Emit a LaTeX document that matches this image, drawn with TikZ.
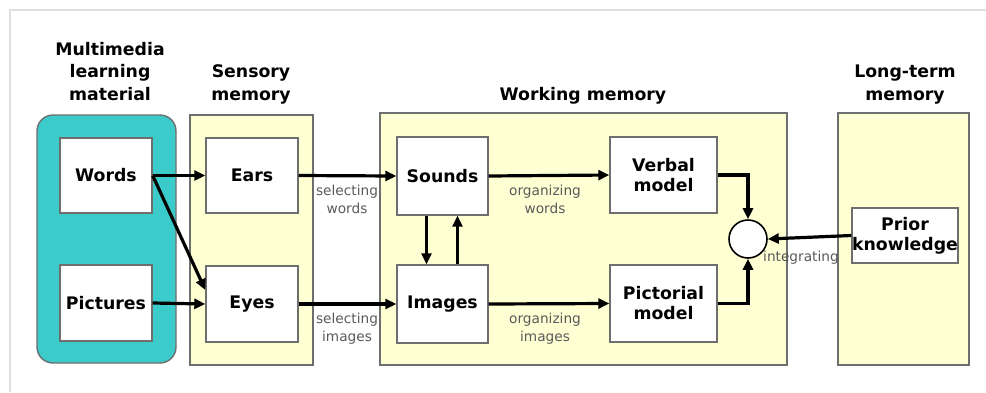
\documentclass[tikz,border=0pt]{standalone}
\usepackage{fontspec}
\setmainfont{DejaVu Sans}
\usepackage{tikz}
\usetikzlibrary{positioning,calc,arrows.meta}
\definecolor{mmteal}{HTML}{3CCBCB}
\definecolor{memyellow}{HTML}{FFFFD4}
\definecolor{boxgray}{HTML}{6E6E6E}
\definecolor{notegray}{HTML}{5A5A5A}
\tikzset{
	panel/.style={draw=boxgray, line width=1.4pt, fill=memyellow},
	box/.style={draw=boxgray, line width=1.4pt, fill=white, inner sep=0pt, align=center, font=\fontsize{17.3}{20}\selectfont\bfseries},
	title/.style={align=center, inner sep=0pt, font=\fontsize{17.3}{22.5}\selectfont\bfseries},
	note/.style={align=center, inner sep=0pt, text=notegray, font=\fontsize{13.7}{18}\selectfont},
	arr/.style={line width=3.2pt, -{Triangle[length=11pt,width=10pt]}}
}
\begin{document}
\begin{tikzpicture}[x=1pt, y=-1pt]
		\useasboundingbox (0,0) rectangle (986,392);
		\draw[gray!25, line width=1.5pt] (10,392)--(10,10)--(986,10);
		
		% the four columns
		\draw[draw=boxgray, line width=1.4pt, fill=mmteal, rounded corners=16pt] (37,115) rectangle (176,363);
		\draw[panel] (190,115) rectangle (313,365);
		\draw[panel] (380,113) rectangle (787,365);
		\draw[panel] (838,113) rectangle (969,365);
		
		\node[title, anchor=base] (mm) at (110,100) {Multimedia\\learning\\material};
		\node[title, anchor=base] (sm) at (251,100) {Sensory\\memory};
		\node[title, anchor=base] (wm) at (583,100) {Working memory};
		\node[title, anchor=base] (lm) at (905,100) {Long-term\\memory};
		
		\node[box, minimum width=92pt, minimum height=75pt] (words) at (106,175.5) {Words};
		\node[box, minimum width=92pt, minimum height=76pt] (pictures) at (106,303) {Pictures};
		\node[box, minimum width=92pt, minimum height=75pt] (ears) at (252,175.5) {Ears};
		\node[box, minimum width=92pt, minimum height=76pt] (eyes) at (252,304) {Eyes};
		\node[box, minimum width=91pt, minimum height=78pt] (sounds) at (442.5,176) {Sounds};
		\node[box, minimum width=91pt, minimum height=78pt] (images) at (442.5,304) {Images};
		\node[box, minimum width=107pt, minimum height=76pt] (verbal) at (663.5,175) {Verbal\\model};
		\node[box, minimum width=107pt, minimum height=77pt] (pictorial) at (663.5,303.5) {Pictorial\\model};
		\node[box, minimum width=106pt, minimum height=55pt] (prior) at (905,235.5) {Prior\\knowledge};
		\node[draw=black, line width=1.6pt, fill=white, circle, minimum size=38pt, inner sep=0pt] (integ) at (748,239) {};
		
		\draw[arr] (words.east)--(ears.west);
		\draw[arr] (words.east)--([yshift=14pt]eyes.west);
		\draw[arr] (pictures.east)--(eyes.west);
		\draw[arr] (ears.east)--(sounds.west);
		\draw[arr] (eyes.east)--(images.west);
		\draw[arr] (sounds.east)--(verbal.west);
		\draw[arr] (images.east)--(pictorial.west);
		\draw[arr] ([xshift=-16pt]sounds.south)--([xshift=-16pt]images.north);
		\draw[arr] ([xshift=15pt]images.north)--([xshift=15pt]sounds.south);
		\draw[arr] (verbal.east)-|(integ.north);
		\draw[arr] (pictorial.east)-|(integ.south);
		\draw[arr] (prior.west)--(integ.east);
		
		\node[note] (selw) at (347,199) {selecting\\words};
		\node[note] (seli) at (347,329) {selecting\\images};
		\node[note] (orgw) at (545,199) {organizing\\words};
		\node[note] (orgi) at (545,329) {organizing\\images};
		\node[note, anchor=west] (intg) at (763,258) {integrating};
	\end{tikzpicture}
\end{document}
